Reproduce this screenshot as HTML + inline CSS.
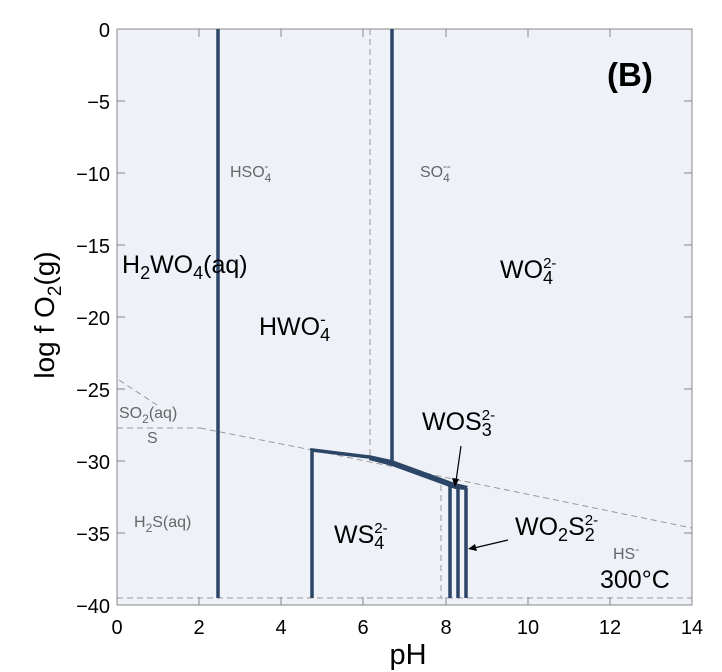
<!DOCTYPE html>
<html><head><style>body{margin:0;background:#fff}svg{display:block;font-family:"Liberation Sans",sans-serif}</style></head><body>
<svg width="722" height="672" viewBox="0 0 722 672">
<rect x="117" y="29" width="575" height="576" fill="#eef1f8"/>
<g stroke="#888" stroke-width="1" fill="none">
<rect x="117" y="29" width="575" height="576"/>
</g>
<g stroke="#888" stroke-width="1">
<line x1="117" y1="29" x2="125" y2="29"/><line x1="117" y1="101" x2="125" y2="101"/><line x1="117" y1="173" x2="125" y2="173"/><line x1="117" y1="245" x2="125" y2="245"/><line x1="117" y1="317" x2="125" y2="317"/><line x1="117" y1="389" x2="125" y2="389"/><line x1="117" y1="461" x2="125" y2="461"/><line x1="117" y1="533" x2="125" y2="533"/>
<line x1="692" y1="29" x2="684" y2="29"/><line x1="692" y1="101" x2="684" y2="101"/><line x1="692" y1="173" x2="684" y2="173"/><line x1="692" y1="245" x2="684" y2="245"/><line x1="692" y1="317" x2="684" y2="317"/><line x1="692" y1="389" x2="684" y2="389"/><line x1="692" y1="461" x2="684" y2="461"/><line x1="692" y1="533" x2="684" y2="533"/>
<line x1="199" y1="605" x2="199" y2="597"/><line x1="281" y1="605" x2="281" y2="597"/><line x1="363" y1="605" x2="363" y2="597"/><line x1="446" y1="605" x2="446" y2="597"/><line x1="528" y1="605" x2="528" y2="597"/><line x1="610" y1="605" x2="610" y2="597"/>
<line x1="199" y1="29" x2="199" y2="37"/><line x1="281" y1="29" x2="281" y2="37"/><line x1="363" y1="29" x2="363" y2="37"/><line x1="446" y1="29" x2="446" y2="37"/><line x1="528" y1="29" x2="528" y2="37"/><line x1="610" y1="29" x2="610" y2="37"/>
</g>
<g stroke="#999" stroke-width="1" stroke-dasharray="6,4" fill="none">
<line x1="117" y1="598" x2="692" y2="598"/>
<line x1="370" y1="29" x2="370" y2="458"/>
<line x1="441" y1="485" x2="441" y2="598"/>
<line x1="119" y1="380" x2="157" y2="405"/>
<line x1="117" y1="428" x2="200" y2="428"/>
<polyline points="200,428 312,450 692,528"/>
</g>
<g stroke="#2b4566" stroke-width="3.5" fill="none">
<line x1="218" y1="29" x2="218" y2="598"/>
<line x1="392" y1="29" x2="392" y2="463"/>
<polyline points="312,598 312,450 369,457"/>
<line x1="450" y1="486" x2="450" y2="598"/>
<line x1="458" y1="487" x2="458" y2="598"/>
<line x1="466" y1="488" x2="466" y2="598"/>
</g>
<polygon points="369,455 392,460 455,483 468,486 466,490 455,489 392,466 369,460" fill="#2b4566"/>
<g stroke="#000" stroke-width="1.2" fill="#000">
<line x1="461" y1="446" x2="456" y2="481"/><polygon points="455,487 452,478 459,479" stroke="none"/>
<line x1="508" y1="540" x2="474" y2="548"/><polygon points="468,549 475,544 477,551" stroke="none"/>
</g>
<g font-size="20" fill="#000" text-anchor="end">
<text x="110" y="37">0</text><text x="110" y="109">−5</text><text x="110" y="181">−10</text><text x="110" y="253">−15</text><text x="110" y="325">−20</text><text x="110" y="397">−25</text><text x="110" y="469">−30</text><text x="110" y="541">−35</text><text x="110" y="613">−40</text>
</g>
<g font-size="20" fill="#000" text-anchor="middle">
<text x="117" y="634">0</text><text x="199" y="634">2</text><text x="281" y="634">4</text><text x="363" y="634">6</text><text x="446" y="634">8</text><text x="528" y="634">10</text><text x="610" y="634">12</text><text x="692" y="634">14</text>
</g>
<text x="408" y="664" font-size="29" text-anchor="middle">pH</text>
<text transform="translate(54,315) rotate(-90)" font-size="28" text-anchor="middle">log f O<tspan font-size="19" dy="7">2</tspan><tspan dy="-7">(g)</tspan></text>
<text x="607" y="86" font-size="33" font-weight="bold">(B)</text>
<g font-size="25" fill="#000">
<text x="122" y="273">H<tspan font-size="18" dy="6">2</tspan><tspan dy="-6">WO</tspan><tspan font-size="18" dy="6">4</tspan><tspan dy="-6">(aq)</tspan></text>
<text x="259" y="335">HWO<tspan font-size="18" dy="6">4</tspan><tspan font-size="17" dx="-10" dy="-16">-</tspan></text>
<text x="500" y="278">WO<tspan font-size="18" dy="6">4</tspan><tspan font-size="15" dx="-10" dy="-16">2-</tspan></text>
<text x="334" y="543">WS<tspan font-size="18" dy="6">4</tspan><tspan font-size="15" dx="-10" dy="-16">2-</tspan></text>
<text x="422" y="430">WOS<tspan font-size="18" dy="6">3</tspan><tspan font-size="15" dx="-10" dy="-16">2-</tspan></text>
<text x="515" y="535">WO<tspan font-size="18" dy="6">2</tspan><tspan dy="-6">S</tspan><tspan font-size="18" dy="6">2</tspan><tspan font-size="15" dx="-10" dy="-16">2-</tspan></text>
<text x="600" y="588">300°C</text>
</g>
<g font-size="16" fill="#666">
<text x="230" y="177">HSO<tspan font-size="12" dy="5">4</tspan><tspan font-size="12" dx="-7" dy="-12">-</tspan></text>
<text x="420" y="177">SO<tspan font-size="12" dy="5">4</tspan><tspan font-size="12" dx="-7" dy="-12">--</tspan></text>
<text x="119" y="418">SO<tspan font-size="12" dy="5">2</tspan><tspan dy="-5">(aq)</tspan></text>
<text x="147" y="443">S</text>
<text x="134" y="527">H<tspan font-size="12" dy="5">2</tspan><tspan dy="-5">S(aq)</tspan></text>
<text x="613" y="559">HS<tspan font-size="12" dy="-6">-</tspan></text>
</g>
</svg>
</body></html>
